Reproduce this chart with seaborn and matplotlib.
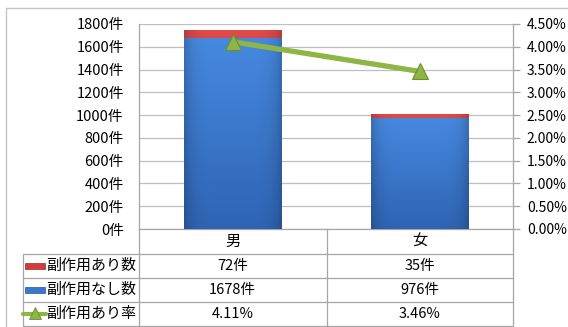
import numpy as np
import pandas as pd
import matplotlib
matplotlib.use("Agg")
import matplotlib.pyplot as plt
import matplotlib.transforms as mtransforms
from matplotlib.colors import to_rgb
from matplotlib.lines import Line2D
from matplotlib.patches import Rectangle
import seaborn as sns

# ---- data ----
categories = ["男", "女"]
with_side_effects = [72, 35]          # 副作用あり数 (件)
without_side_effects = [1678, 976]    # 副作用なし数 (件)
side_effect_rate = [4.11, 3.46]       # 副作用あり率 (%)
row_labels = ["副作用あり数", "副作用なし数", "副作用あり率"]
count_ticks = [0, 200, 400, 600, 800, 1000, 1200, 1400, 1600, 1800]
rate_ticks = [0.0, 0.5, 1.0, 1.5, 2.0, 2.5, 3.0, 3.5, 4.0, 4.5]

# ---- style ----
sns.set_theme(style="white")
plt.rcParams["font.family"] = ["Noto Sans CJK JP", "DejaVu Sans"]
FS = 10.5
GRID = "#bfbfbf"
LINEC = "#a6a6a6"
RED_TOP, RED_BOT = "#e04a4a", "#b82626"
BLUE_TOP, BLUE_BOT = "#4689e0", "#2f64b3"
GREEN, GREEN_EDGE = "#8db646", "#6c8f30"

W, H = 568, 327
fig = plt.figure(figsize=(W / 100, H / 100), dpi=100)


def fx(x):
    return x / W


def fy(y):
    return 1 - y / H


ax = fig.add_axes([fx(139), fy(229), fx(513) - fx(139), fy(24) - fy(229)])

df = pd.DataFrame({
    "cat": categories,
    "total": np.add(with_side_effects, without_side_effects),
    "none": without_side_effects,
    "rate": np.array(side_effect_rate) / 100.0,
})

BAR_W = 0.52
sns.barplot(data=df, x="cat", y="total", color=RED_BOT, width=BAR_W,
            saturation=1, ax=ax, zorder=2)
sns.barplot(data=df, x="cat", y="none", color=BLUE_BOT, width=BAR_W,
            saturation=1, ax=ax, zorder=3)


def gradient_fill(patch, top, bottom, edge, z):
    """Paint a bar with a vertical gradient and darker side shading."""
    x, y = patch.get_x(), patch.get_y()
    w, h = patch.get_width(), patch.get_height()
    n = 64
    t = np.linspace(0, 1, n)[:, None]
    c_top, c_bot = np.array(to_rgb(top)), np.array(to_rgb(bottom))
    col = c_top[None, :] * (1 - t) + c_bot[None, :] * t  # rows: top->bottom
    s = np.linspace(-1, 1, 48)
    shade = 1 - 0.18 * np.abs(s) ** 6
    img = col[:, None, :] * shade[None, :, None]
    img = np.clip(img, 0, 1)
    im = ax.imshow(img, extent=[x, x + w, y, y + h], aspect="auto",
                   origin="upper", zorder=z, interpolation="bilinear")
    im.set_clip_path(patch)
    patch.set_edgecolor(edge)
    patch.set_linewidth(0.6)


for p in ax.patches[:2]:
    p.set_zorder(2)
    gradient_fill(p, RED_TOP, RED_BOT, "#9e2424", 2.1)
for p in ax.patches[2:4]:
    p.set_zorder(3)
    gradient_fill(p, BLUE_TOP, BLUE_BOT, "#2b5593", 3.1)

ax.set_xlim(-0.5, 1.5)
ax.set_ylim(0, 1800)
ax.set_yticks(count_ticks)
ax.set_yticklabels([f"{v}件" for v in count_ticks], fontsize=FS)
ax.set_xticks([])
ax.set_xlabel("")
ax.set_ylabel("")
ax.yaxis.grid(True, color=GRID, linewidth=0.9)
ax.set_axisbelow(True)
ax.tick_params(axis="y", length=0, pad=11, colors="black")
for side in ["top", "right"]:
    ax.spines[side].set_visible(False)
for side in ["left", "bottom"]:
    ax.spines[side].set_color(LINEC)
    ax.spines[side].set_linewidth(0.9)

# ---- rate line on secondary axis ----
ax2 = ax.twinx()
sns.lineplot(x=np.arange(len(categories)), y=df["rate"], ax=ax2, color=GREEN,
             linewidth=3.8, marker="^", markersize=12,
             markerfacecolor=GREEN, markeredgecolor=GREEN_EDGE,
             markeredgewidth=0.8, legend=False)
ax2.set_ylim(0, 0.045)
ax2.set_yticks(np.array(rate_ticks) / 100)
ax2.set_yticklabels([f"{v:.2f}%" for v in rate_ticks], fontsize=10)
ax2.set_ylabel("")
ax2.tick_params(axis="y", length=5, width=0.9, color=LINEC, pad=5,
                labelcolor="black", direction="out")
for side in ["top", "left", "bottom"]:
    ax2.spines[side].set_visible(False)
ax2.spines["right"].set_color(LINEC)
ax2.spines["right"].set_linewidth(0.9)
ax2.set_xlim(-0.5, 1.5)

# ---- outer chart frame ----
fig.add_artist(Line2D([fx(6), fx(6)], [fy(8), fy(H + 5)], color="#c4c4c4",
                      linewidth=1.0, transform=fig.transFigure))
fig.add_artist(Line2D([fx(6), fx(W + 5)], [fy(8), fy(8)], color="#c4c4c4",
                      linewidth=1.0, transform=fig.transFigure))

# ---- data table below the plot ----
row_edges = [254, 278, 302, 326]
for xv in [139, 327, 513]:
    fig.add_artist(Line2D([fx(xv), fx(xv)], [fy(229), fy(326)], color=LINEC,
                          linewidth=0.9, transform=fig.transFigure))
fig.add_artist(Line2D([fx(23), fx(23)], [fy(254), fy(326)], color=LINEC,
                      linewidth=0.9, transform=fig.transFigure))
for yv in row_edges:
    fig.add_artist(Line2D([fx(23), fx(513)], [fy(yv), fy(yv)], color=LINEC,
                          linewidth=0.9, transform=fig.transFigure))

blend = mtransforms.blended_transform_factory(ax.transData, fig.transFigure)
header_y = (229 + 254) / 2
row_centers = [(a + b) / 2 for a, b in zip(row_edges[:-1], row_edges[1:])]

for i, c in enumerate(categories):
    fig.text(i, fy(header_y), c, transform=blend, ha="center", va="center",
             fontsize=FS + 0.5, color="black")
    fig.text(i, fy(row_centers[0]), f"{with_side_effects[i]}件", transform=blend,
             ha="center", va="center", fontsize=FS, color="black")
    fig.text(i, fy(row_centers[1]), f"{without_side_effects[i]}件", transform=blend,
             ha="center", va="center", fontsize=FS, color="black")
    fig.text(i, fy(row_centers[2]), f"{side_effect_rate[i]:.2f}%", transform=blend,
             ha="center", va="center", fontsize=FS, color="black")

# row labels with legend keys
for yc, label in zip(row_centers, row_labels):
    fig.text(fx(46), fy(yc), label, ha="left", va="center", fontsize=FS + 0.3,
             color="black")

fig.add_artist(Rectangle((fx(25), fy(row_centers[0] + 3)), fx(20), fy(0) - fy(6),
                         facecolor="#d23b3b", edgecolor="#a02828", linewidth=0.5,
                         transform=fig.transFigure))
fig.add_artist(Rectangle((fx(25), fy(row_centers[1] + 3)), fx(20), fy(0) - fy(6),
                         facecolor="#3a78cf", edgecolor="#2b5593", linewidth=0.5,
                         transform=fig.transFigure))
fig.add_artist(Line2D([fx(23), fx(46)], [fy(row_centers[2]), fy(row_centers[2])],
                      color=GREEN, linewidth=3.0, transform=fig.transFigure))
fig.add_artist(Line2D([fx(35)], [fy(row_centers[2] - 1)], marker="^",
                      markersize=8, color=GREEN, markeredgecolor=GREEN_EDGE,
                      markeredgewidth=0.6, linestyle="none",
                      transform=fig.transFigure))

fig.savefig("out.png", dpi=100)
